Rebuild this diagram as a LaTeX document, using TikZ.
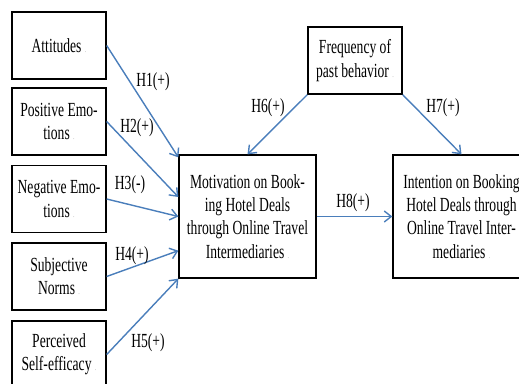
\documentclass[tikz,border=0pt]{standalone}
\usepackage{fontspec}
\setmainfont{Liberation Serif}[FakeStretch=0.68]
\usetikzlibrary{arrows.meta, positioning}
\definecolor{hypblue}{HTML}{4A7EBB}
\definecolor{markgray}{HTML}{B8B8B8}
\newcommand{\pmark}{\,{\fontsize{9}{9}\selectfont\color{markgray}.}}

\begin{document}
\begin{tikzpicture}[
    x=1pt, y=-1pt,
    every node/.style={font=\fontsize{20}{23.3}\selectfont},
    factor/.style={draw=black, line width=1.3pt, minimum width=94pt, minimum height=67pt, align=center, inner sep=0pt},
    construct/.style={factor, minimum width=137pt, minimum height=123pt},
    hyp/.style={-{Straight Barb[length=7pt, width=11pt]}, line width=1.4pt, hypblue},
    hlabel/.style={inner sep=0pt}
]
\useasboundingbox (0,0) rectangle (519,383);

% Antecedents
\node[factor] (att) at (59,45.5) {Attitudes\pmark};
\node[factor] (pos) at (59,121.5) {Positive Emo-\\tions\pmark};
\node[factor] (neg) at (59,199) {Negative Emo-\\tions\pmark};
\node[factor] (norm) at (59,276.5) {Subjective\\Norms\pmark};
\node[factor] (eff) at (59,354.5) {Perceived\\Self-efficacy\pmark};

% Past behavior
\node[factor] (freq) at (355,60.5) {Frequency of\\past behavior\pmark};

% Motivation and intention
\node[construct] (mot) at (247.5,216.5) {Motivation on Book-\\ing Hotel Deals\\through Online Travel\\Intermediaries\pmark};
\node[construct] (intent) at (461.5,216.5) {Intention on Booking\\Hotel Deals through\\Online Travel Inter-\\mediaries\pmark};

% Hypotheses
\draw[hyp] (att.east) -- ([yshift=-3pt]mot.north west);
\draw[hyp] (pos.east) -- ([yshift=19.5pt]mot.west);
\draw[hyp] (neg.east) -- (mot.west);
\draw[hyp] (norm.east) -- ([yshift=28pt]mot.south west);
\draw[hyp] (eff.east) -- (mot.south west);
\draw[hyp] (freq.south west) -- (mot.north);
\draw[hyp] (freq.south east) -- (intent.north);
\draw[hyp] (mot.east) -- (intent.west);

\node[hlabel] (h1) at (153,82) {H1(+)};
\node[hlabel] (h2) at (137,128) {H2(+)};
\node[hlabel] (h3) at (130,185) {H3(-)};
\node[hlabel] (h4) at (132,256) {H4(+)};
\node[hlabel] (h5) at (148,343) {H5(+)};
\node[hlabel] (h6) at (268,108) {H6(+)};
\node[hlabel] (h7) at (443,108) {H7(+)};
\node[hlabel] (h8) at (353,203) {H8(+)};

\end{tikzpicture}
\end{document}
